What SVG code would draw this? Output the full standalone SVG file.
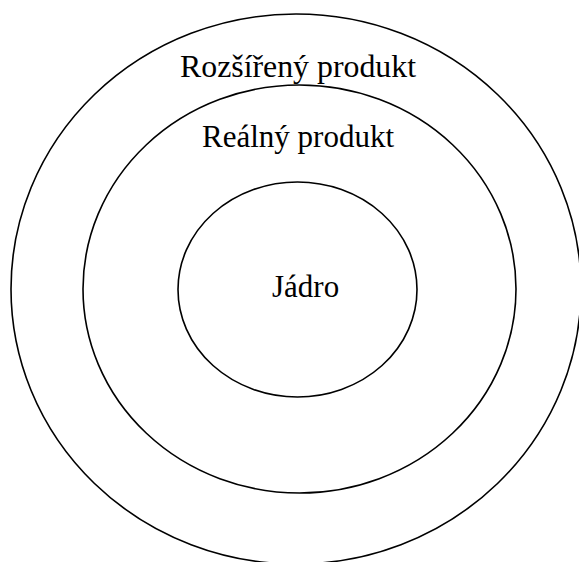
<svg xmlns="http://www.w3.org/2000/svg" width="579" height="562" viewBox="0 0 579 562">
<style>
.ring{fill:none;stroke:#000;stroke-width:1.6}
.lbl{font-family:"Liberation Serif","Times New Roman",serif;font-size:31px;fill:#000}
</style>
<rect width="579" height="562" fill="#fff"/>
<g id="outer"><ellipse class="ring" cx="296" cy="289" rx="285" ry="275"/><text class="lbl" x="180" y="77" textLength="236" lengthAdjust="spacingAndGlyphs">Rozšířený produkt</text></g>
<g id="middle"><ellipse class="ring" cx="299.5" cy="289" rx="216.5" ry="204"/><text class="lbl" x="202" y="147">Reálný produkt</text></g>
<g id="inner"><ellipse class="ring" cx="297.5" cy="289.5" rx="119.5" ry="107.5"/><text class="lbl" x="272" y="297">Jádro</text></g>
<g id="connectors"></g>
</svg>
